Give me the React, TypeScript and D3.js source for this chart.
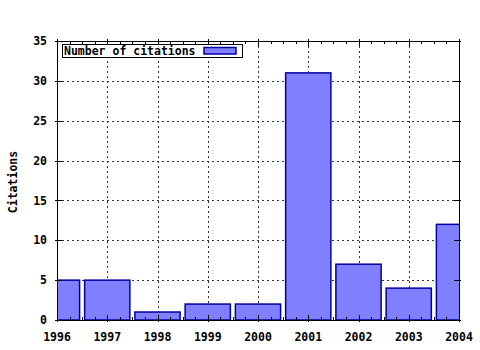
import React from "react";
import * as d3 from "d3";

const years = [1996, 1997, 1998, 1999, 2000, 2001, 2002, 2003, 2004];
const citations = [5, 5, 1, 2, 2, 31, 7, 4, 12];
const yTicks = [0, 5, 10, 15, 20, 25, 30, 35];
const seriesName = "Number of citations";
const yTitle = "Citations";

const W = 480, H = 350;
const L = 57, R = 459, T = 41, B = 320;

export default function App() {
  const x = d3.scaleLinear().domain([1996, 2004]).range([L, R]);
  const y = d3.scaleLinear().domain([0, 35]).range([B, T]);
  const bw = x(1996.9) - x(1996);
  const font = { fontFamily: "'DejaVu Sans Mono', monospace", fontWeight: "bold" as const, fontSize: 11.5 };
  const minor: number[] = [];
  for (let i = 0; i < years.length - 1; i++) for (let k = 1; k < 4; k++) minor.push(years[i] + k / 4);
  return (
    <svg width={W} height={H} style={{ position: "absolute", left: 0, top: 0, background: "#fff" }}>
      <defs>
        <clipPath id="pc"><rect x={L} y={T} width={R - L} height={B - T} /></clipPath>
      </defs>
      <g stroke="#333" strokeWidth={1} strokeDasharray="2,3" shapeRendering="crispEdges">
        {yTicks.slice(1, -1).map(t => (
          <line key={"gy" + t} x1={L} x2={R} y1={Math.round(y(t)) + 0.5} y2={Math.round(y(t)) + 0.5} />
        ))}
        {years.slice(1, -1).map(t => (
          <line key={"gx" + t} y1={T} y2={B} x1={Math.round(x(t)) + 0.5} x2={Math.round(x(t)) + 0.5} />
        ))}
      </g>
      <g clipPath="url(#pc)">
        {years.map((yr, i) => (
          <rect key={yr} x={x(yr) - bw / 2} y={y(citations[i])} width={bw} height={B - y(citations[i])}
            fill="#8080ff" stroke="#0000a0" strokeWidth={1.5} />
        ))}
      </g>
      <g stroke="#000" strokeWidth={1} shapeRendering="crispEdges">
        <rect x={L + 0.5} y={T + 0.5} width={R - L} height={B - T} fill="none" />
        {yTicks.map(t => (
          <g key={"ty" + t}>
            <line x1={L - 2} x2={L + 5} y1={Math.round(y(t)) + 0.5} y2={Math.round(y(t)) + 0.5} />
            <line x1={R - 5} x2={R + 2} y1={Math.round(y(t)) + 0.5} y2={Math.round(y(t)) + 0.5} />
          </g>
        ))}
        {years.map(t => (
          <g key={"tx" + t}>
            <line y1={B + 2} y2={B - 5} x1={Math.round(x(t)) + 0.5} x2={Math.round(x(t)) + 0.5} />
            <line y1={T - 2} y2={T + 5} x1={Math.round(x(t)) + 0.5} x2={Math.round(x(t)) + 0.5} />
          </g>
        ))}
        {minor.map(t => (
          <g key={"mx" + t}>
            <line y1={B} y2={B - 3} x1={Math.round(x(t)) + 0.5} x2={Math.round(x(t)) + 0.5} />
            <line y1={T} y2={T + 3} x1={Math.round(x(t)) + 0.5} x2={Math.round(x(t)) + 0.5} />
          </g>
        ))}
      </g>
      <g {...font} fill="#000">
        {yTicks.map(t => (
          <text key={"ly" + t} x={47} y={y(t)} dy="0.36em" textAnchor="end">{t}</text>
        ))}
        {years.map(t => (
          <text key={"lx" + t} x={x(t)} y={341} textAnchor="middle">{t}</text>
        ))}
        <text transform={`translate(17,182) rotate(-90)`} textAnchor="middle">{yTitle}</text>
      </g>
      <rect x={62.5} y={44.5} width={180} height={13} fill="#fff" stroke="#000" strokeWidth={1} shapeRendering="crispEdges" />
      <text x={64} y={55} {...font} fill="#000">{seriesName}</text>
      <rect x={204} y={47.5} width={32} height={6.5} fill="#8080ff" stroke="#0000a0" strokeWidth={1.5} />
    </svg>
  );
}
